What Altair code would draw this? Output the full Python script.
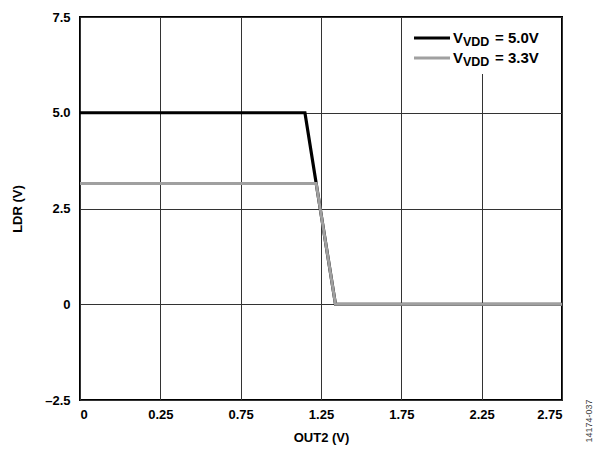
import altair as alt
import pandas as pd

# ---- data ----
out2_black = [-0.25, 1.15, 1.34, 2.75]
ldr_black = [5.0, 5.0, 0.0, 0.0]
out2_gray = [-0.25, 1.22, 1.34, 2.75]
ldr_gray = [3.15, 3.15, 0.0, 0.0]

x_ticks = [-0.25, 0.25, 0.75, 1.25, 1.75, 2.25, 2.75]
x_tick_labels = ["0", "0.25", "0.75", "1.25", "1.75", "2.25", "2.75"]
y_ticks = [-2.5, 0, 2.5, 5.0, 7.5]
y_tick_labels = ["–2.5", "0", "2.5", "5.0", "7.5"]

legend_main = ["V", "V"]
legend_sub = ["VDD", "VDD"]
legend_rest = ["= 5.0V", "= 3.3V"]

FONT = "Liberation Sans"
W, H = 482, 383
BLACK = "#000000"
GRAY = "#a0a0a0"

def arr(v, q=False):
    if q:
        return "[" + ",".join("'" + s + "'" for s in v) + "]"
    return "[" + ",".join(str(s) for s in v) + "]"

x_expr = f"{arr(x_tick_labels, True)}[indexof({arr(x_ticks)}, datum.value)]"
y_expr = f"{arr(y_tick_labels, True)}[indexof({arr(y_ticks)}, datum.value)]"

x_enc = alt.X(
    "x:Q",
    scale=alt.Scale(domain=[-0.25, 2.75], nice=False, zero=False),
    axis=alt.Axis(
        values=x_ticks, labelExpr=x_expr, title="OUT2 (V)", ticks=False, domain=False,
        labelPadding=8, titleX=W / 2, titleY=37, titleBaseline="middle", titleAlign="center",
    ),
)
y_enc = alt.Y(
    "y:Q",
    scale=alt.Scale(domain=[-2.5, 7.5], nice=False, zero=False),
    axis=alt.Axis(
        values=y_ticks, labelExpr=y_expr, title="LDR (V)", ticks=False, domain=False,
        labelPadding=10, titleX=-63, titleY=H / 2, titleAngle=270,
        titleBaseline="middle", titleAlign="center",
    ),
)

df_b = pd.DataFrame({"x": out2_black, "y": ldr_black})
df_g = pd.DataFrame({"x": out2_gray, "y": ldr_gray})

line_b = alt.Chart(df_b).mark_line(color=BLACK, strokeWidth=3.2, strokeJoin="miter").encode(x=x_enc, y=y_enc)
line_g = alt.Chart(df_g).mark_line(color=GRAY, strokeWidth=3, strokeJoin="miter").encode(x="x:Q", y="y:Q")

one = pd.DataFrame({"a": [0]})
leg_bg = alt.Chart(one).mark_rect(color="white").encode(
    x=alt.value(322), x2=alt.value(481), y=alt.value(1), y2=alt.value(57)
)

layers = [line_b, line_g, leg_bg]
leg_colors = [BLACK, GRAY]
leg_y = [21, 41]
for i in range(2):
    layers.append(
        alt.Chart(one).mark_rule(color=leg_colors[i], strokeWidth=3).encode(
            x=alt.value(334), x2=alt.value(370), y=alt.value(leg_y[i])
        )
    )
    layers.append(
        alt.Chart(one).mark_text(text=legend_main[i], font=FONT, fontWeight="bold", fontSize=15,
                                 align="left", baseline="middle", color="black").encode(
            x=alt.value(373), y=alt.value(leg_y[i])
        )
    )
    layers.append(
        alt.Chart(one).mark_text(text=legend_sub[i], font=FONT, fontWeight="bold", fontSize=12.5,
                                 align="left", baseline="middle", color="black").encode(
            x=alt.value(383), y=alt.value(leg_y[i] + 4)
        )
    )
    layers.append(
        alt.Chart(one).mark_text(text=legend_rest[i], font=FONT, fontWeight="bold", fontSize=15,
                                 align="left", baseline="middle", color="black").encode(
            x=alt.value(415), y=alt.value(leg_y[i])
        )
    )

layers.append(
    alt.Chart(one).mark_text(text="14174-037", font=FONT, fontSize=9, angle=270,
                             align="center", baseline="middle", color="#444444").encode(
        x=alt.value(509), y=alt.value(404)
    )
)

chart = alt.layer(*layers).properties(
    width=W, height=H,
    autosize=alt.AutoSizeParams(type="none"),
    padding={"left": 72, "top": 9, "right": 33, "bottom": 46},
).configure_view(
    stroke="black", strokeWidth=2
).configure_axis(
    grid=True, gridColor="#333333", gridWidth=1,
    labelFont=FONT, labelFontWeight="bold", labelFontSize=13, labelColor="black",
    titleFont=FONT, titleFontWeight="bold", titleFontSize=13, titleColor="black",
)

chart.save("out.html", embed_options={"renderer": "svg", "actions": False})
